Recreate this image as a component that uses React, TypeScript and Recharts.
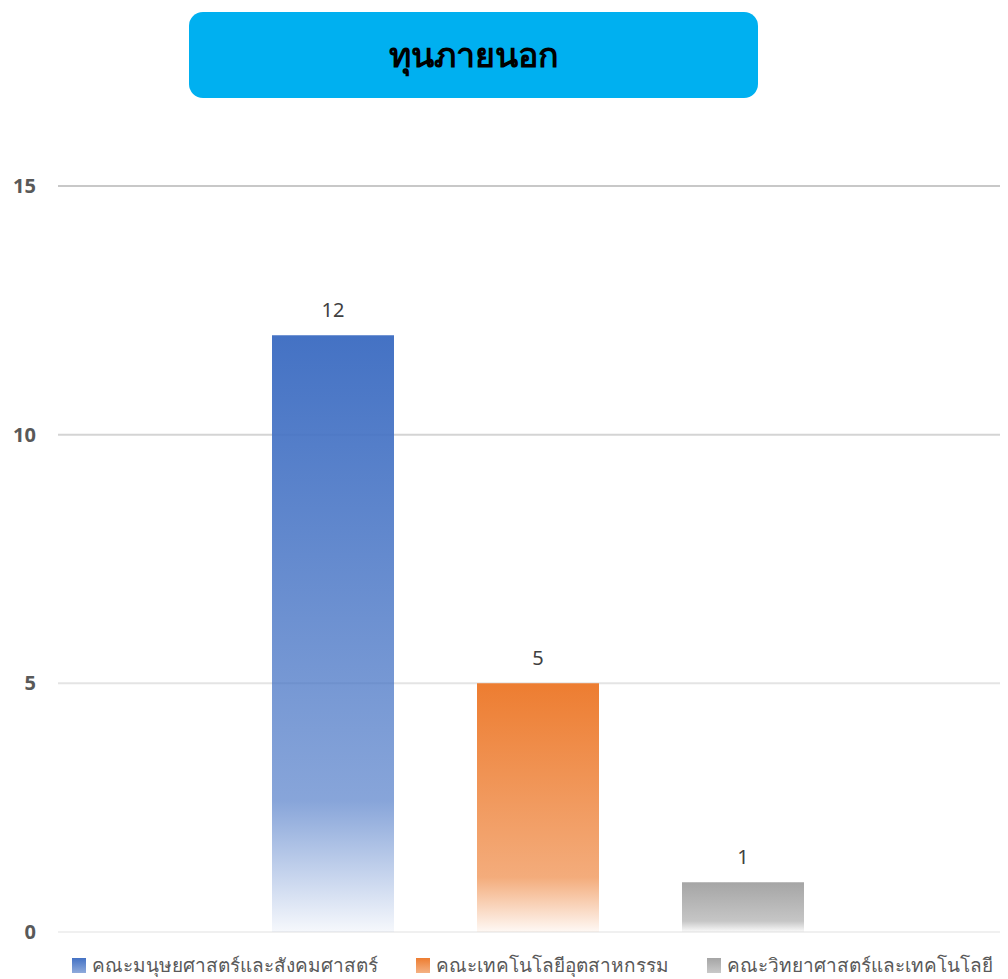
import React from 'react';
import { BarChart, Bar, XAxis, YAxis, CartesianGrid, LabelList, Legend } from 'recharts';

const categories = ['ทุนภายนอก'];
const seriesNames = ['คณะมนุษยศาสตร์และสังคมศาสตร์', 'คณะเทคโนโลยีอุตสาหกรรม', 'คณะวิทยาศาสตร์และเทคโนโลยี'];
const seriesValues = [12, 5, 1];
const yTicks = [0, 5, 10, 15];

const COLORS = ['#4472C4', '#ED7D31', '#A5A5A5'];
// grid gets lighter toward the baseline (index follows yTicks)
const GRID_COLORS = ['#f0f0f0', '#e4e4e4', '#d4d4d4', '#c8c8c8'];
const FONT = '"Noto Sans", "Open Sans", sans-serif';

const data = categories.map((name) => {
  const row: Record<string, string | number> = { name };
  seriesNames.forEach((s, i) => {
    row[`s${i}`] = seriesValues[i];
  });
  return row;
});

const LegendContent = () => (
  <div
    style={{
      display: 'flex',
      justifyContent: 'center',
      gap: 38,
      height: 26,
      fontFamily: FONT,
      fontSize: 19,
      color: '#595959',
      whiteSpace: 'nowrap',
      transform: 'translate(23px, 12px)',
    }}
  >
    {seriesNames.map((s, i) => (
      <div key={s} style={{ display: 'flex', alignItems: 'center', gap: 6 }}>
        <span
          style={{
            display: 'inline-block',
            width: 14,
            height: 15,
            background: `linear-gradient(${COLORS[i]}, ${COLORS[i]}99)`,
          }}
        />
        <span>{s}</span>
      </div>
    ))}
  </div>
);

const gridLine = (props: any) => {
  const idx = typeof props.index === 'number' ? props.index : 0;
  return (
    <line
      key={props.key ?? `g${idx}`}
      x1={props.x1}
      x2={props.x2}
      y1={props.y1}
      y2={props.y2}
      stroke={GRID_COLORS[idx] ?? '#d9d9d9'}
      strokeWidth={2}
    />
  );
};

export default function App() {
  return (
    <div
      style={{
        position: 'relative',
        width: 1008,
        height: 979,
        marginLeft: -8,
        marginTop: -8,
        overflow: 'hidden',
        background: '#fff',
      }}
    >
      <div
        style={{
          position: 'absolute',
          left: 189,
          top: 12,
          width: 569,
          height: 86,
          borderRadius: 14,
          background: '#00B0F0',
          display: 'flex',
          alignItems: 'center',
          justifyContent: 'center',
          fontFamily: FONT,
          fontWeight: 700,
          fontSize: 34,
          color: '#000',
          zIndex: 2,
        }}
      >
        {categories[0]}
      </div>
      <BarChart
        width={1018}
        height={1000}
        data={data}
        margin={{ top: 186, right: 0, left: 0, bottom: 34 }}
        barGap={83}
      >
        <defs>
          {COLORS.map((c, i) => (
            <linearGradient key={c} id={`grad${i}`} x1="0" y1="0" x2="0" y2="1">
              <stop offset="0%" stopColor={c} stopOpacity={1} />
              <stop offset="78%" stopColor={c} stopOpacity={0.64} />
              <stop offset="100%" stopColor={c} stopOpacity={0.05} />
            </linearGradient>
          ))}
        </defs>
        <CartesianGrid vertical={false} horizontal={gridLine} />
        <XAxis dataKey="name" tick={false} axisLine={false} tickLine={false} height={8} />
        <YAxis
          domain={[0, 15]}
          ticks={yTicks}
          width={58}
          axisLine={false}
          tickLine={false}
          tickMargin={16}
          tick={{ fontSize: 20, fontWeight: 700, fill: '#595959', fontFamily: FONT }}
        />
        {seriesNames.map((s, i) => (
          <Bar key={s} dataKey={`s${i}`} name={s} fill={`url(#grad${i})`} barSize={122} isAnimationActive={false}>
            <LabelList
              dataKey={`s${i}`}
              position="top"
              offset={18}
              style={{ fontSize: 20, fill: '#404040', fontFamily: FONT }}
            />
          </Bar>
        ))}
        <Legend verticalAlign="bottom" content={<LegendContent />} />
      </BarChart>
    </div>
  );
}
